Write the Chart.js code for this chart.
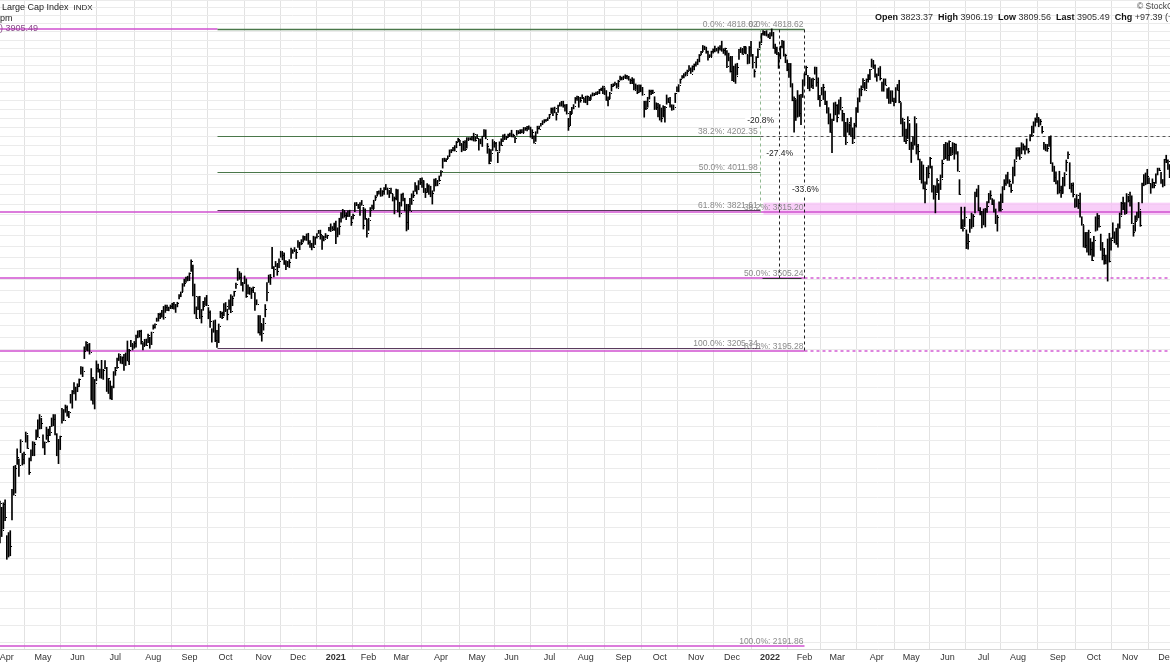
<!DOCTYPE html>
<html>
<head>
<meta charset="utf-8">
<script src="https://cdn.jsdelivr.net/npm/chart.js@4.4.1/dist/chart.umd.min.js"></script>
<style>
  html, body { margin: 0; padding: 0; background: #fff; }
  #wrap { width: 1170px; height: 663px; position: relative; }
</style>
</head>
<body>
<div id="wrap"><canvas id="chart"></canvas></div>
<script>
// daily bars [high, low, close], first bar = 26 Mar 2020
const bars2020 = [
  // Mar
  [2637,2500,2630],[2616,2520,2541],[2631,2545,2627],[2641,2572,2585],
  // Apr
  [2523,2448,2471],[2533,2455,2527],[2539,2459,2489],[2677,2574,2664],[2757,2657,2659],[2760,2664,2750],[2819,2763,2790],
  [2782,2721,2762],[2852,2805,2846],[2802,2761,2783],[2807,2765,2800],[2880,2843,2875],[2868,2820,2823],[2786,2728,2737],
  [2815,2776,2799],[2845,2794,2798],[2843,2794,2837],[2888,2852,2878],[2925,2861,2863],[2945,2891,2940],[2931,2892,2912],
  // May
  [2870,2822,2831],[2844,2798,2843],[2898,2853,2868],[2891,2844,2848],[2901,2867,2881],[2932,2900,2930],[2945,2903,2930],
  [2945,2869,2870],[2874,2794,2820],[2853,2766,2853],[2865,2816,2864],[2968,2913,2954],[2964,2922,2923],[2981,2953,2972],
  [2978,2939,2949],[2957,2933,2955],[3022,2988,2992],[3037,2969,3036],[3068,3024,3030],[3050,2999,3044],
  // Jun
  [3063,3032,3056],[3082,3052,3081],[3131,3101,3123],[3129,3091,3112],[3211,3163,3194],[3233,3196,3232],[3223,3194,3207],
  [3225,3181,3190],[3123,2999,3002],[3088,2984,3041],[3080,2966,3067],[3154,3075,3125],[3141,3109,3113],[3121,3086,3115],
  [3156,3084,3098],[3120,3080,3118],[3155,3123,3131],[3128,3033,3050],[3084,3025,3084],[3074,3004,3009],[3054,3001,3053],
  [3111,3047,3100],
  // Jul
  [3128,3096,3116],[3165,3124,3130],[3183,3155,3180],[3174,3144,3145],[3170,3142,3170],[3180,3116,3152],[3186,3135,3185],
  [3235,3154,3155],[3201,3139,3198],[3238,3212,3227],[3221,3198,3216],[3233,3205,3225],[3259,3210,3252],[3277,3248,3257],
  [3279,3251,3276],[3280,3222,3236],[3228,3198,3216],[3242,3215,3239],[3243,3216,3218],[3264,3228,3258],[3250,3205,3246],
  [3272,3220,3271],
  // Aug
  [3302,3284,3295],[3307,3288,3307],[3331,3317,3328],[3351,3318,3349],[3352,3329,3351],[3364,3335,3360],[3381,3326,3334],
  [3387,3355,3380],[3387,3363,3373],[3378,3362,3373],[3387,3373,3382],[3395,3371,3390],[3399,3369,3375],[3390,3355,3386],
  [3399,3379,3397],[3432,3413,3431],[3444,3423,3444],[3481,3445,3479],[3501,3469,3485],[3510,3486,3508],[3514,3493,3500],
  // Sep
  [3529,3494,3527],[3588,3535,3581],[3564,3427,3455],[3479,3349,3427],[3379,3329,3332],[3424,3367,3399],[3425,3329,3339],
  [3368,3310,3341],[3403,3364,3384],[3419,3385,3401],[3429,3384,3385],[3376,3328,3357],[3362,3292,3319],[3286,3230,3281],
  [3320,3271,3316],[3323,3232,3237],[3279,3209,3247],[3306,3228,3298],[3360,3333,3352],[3357,3328,3335],[3393,3340,3363],
  // Oct
  [3398,3361,3381],[3369,3323,3348],[3409,3368,3409],[3432,3354,3361],[3426,3384,3419],[3447,3425,3447],[3483,3460,3477],
  [3550,3495,3534],[3535,3500,3512],[3528,3473,3489],[3486,3447,3483],[3515,3482,3484],[3502,3420,3427],[3476,3435,3443],
  [3465,3433,3436],[3461,3415,3453],[3466,3441,3465],[3441,3364,3401],[3410,3388,3391],[3342,3268,3271],[3342,3259,3310],
  [3305,3234,3270],
  // Nov
  [3330,3280,3310],[3389,3336,3369],[3486,3405,3443],[3519,3486,3510],[3522,3477,3509],[3646,3548,3551],[3557,3511,3546],
  [3581,3557,3573],[3570,3518,3537],[3593,3552,3585],[3628,3600,3627],[3623,3588,3610],[3620,3567,3568],[3585,3543,3582],
  [3581,3557,3558],[3589,3553,3578],[3643,3595,3635],[3635,3618,3630],[3645,3630,3638],[3634,3594,3622],
  // Dec
  [3678,3645,3662],[3670,3635,3669],[3682,3658,3667],[3700,3670,3699],[3697,3679,3692],[3709,3678,3702],[3712,3660,3673],
  [3678,3645,3668],[3665,3634,3663],[3698,3645,3647],[3695,3659,3695],[3711,3689,3701],[3726,3711,3722],[3727,3684,3709],
  [3702,3636,3695],[3698,3676,3687],[3711,3689,3690],[3703,3690,3703],[3740,3723,3735],[3757,3720,3727],[3744,3730,3732],
  [3760,3726,3756]
]

const bars2021 = [
  // Jan
  [3770,3663,3701],[3738,3695,3727],[3784,3706,3748],[3811,3765,3804],[3827,3784,3825],[3818,3789,3800],[3811,3777,3801],
  [3820,3792,3810],[3823,3792,3796],[3788,3749,3768],[3804,3781,3799],[3860,3816,3852],[3861,3845,3853],[3852,3831,3841],
  [3860,3797,3855],[3871,3847,3850],[3837,3732,3751],[3830,3778,3787],[3779,3694,3714],
  // Feb
  [3784,3726,3774],[3836,3792,3826],[3848,3828,3830],[3872,3830,3872],[3895,3874,3887],[3916,3892,3916],[3919,3902,3911],
  [3932,3891,3910],[3920,3893,3916],[3935,3901,3935],[3951,3924,3933],[3933,3901,3931],[3921,3885,3914],[3932,3905,3907],
  [3902,3868,3877],[3888,3805,3881],[3928,3873,3925],[3925,3815,3829],[3862,3790,3811],
  // Mar
  [3903,3843,3902],[3907,3869,3870],[3882,3819,3820],[3852,3723,3768],[3852,3730,3842],[3881,3819,3821],[3904,3851,3875],
  [3918,3885,3899],[3960,3916,3939],[3945,3903,3943],[3970,3924,3969],[3982,3950,3963],[3984,3936,3974],[3970,3910,3915],
  [3931,3885,3913],[3955,3911,3941],[3949,3901,3911],[3942,3889,3889],[3919,3853,3910],[3978,3917,3975],[3981,3943,3971],
  [3968,3944,3959],[3994,3967,3973],
  // Apr
  [4021,3993,4020],[4084,4034,4078],[4086,4068,4074],[4084,4068,4080],[4098,4083,4097],[4129,4096,4129],[4131,4114,4128],
  [4143,4124,4142],[4152,4123,4125],[4174,4140,4170],[4191,4171,4185],[4180,4151,4163],[4160,4119,4135],[4175,4126,4173],
  [4178,4125,4135],[4194,4138,4180],[4194,4182,4188],[4194,4182,4187],[4201,4181,4183],[4218,4176,4211],[4199,4175,4181],
  // May
  [4210,4188,4193],[4187,4128,4165],[4187,4161,4168],[4202,4147,4202],[4238,4201,4233],[4236,4188,4188],[4163,4111,4152],
  [4135,4056,4063],[4131,4069,4113],[4184,4126,4174],[4170,4143,4163],[4169,4123,4128],[4117,4062,4116],[4172,4122,4159],
  [4188,4152,4156],[4209,4172,4197],[4213,4183,4188],[4202,4188,4196],[4213,4195,4201],[4219,4204,4204],
  // Jun
  [4234,4198,4202],[4213,4197,4208],[4198,4167,4193],[4233,4207,4230],[4232,4215,4227],[4237,4216,4227],[4237,4219,4220],
  [4249,4220,4239],[4249,4233,4247],[4255,4230,4255],[4258,4238,4247],[4251,4196,4224],[4237,4188,4222],[4204,4165,4166],
  [4226,4174,4225],[4256,4217,4246],[4256,4240,4242],[4272,4256,4266],[4286,4266,4281],[4292,4274,4291],[4293,4282,4292],
  [4302,4287,4298],
  // Jul
  [4321,4301,4320],[4356,4326,4352],[4357,4313,4344],[4361,4329,4358],[4331,4289,4321],[4372,4331,4370],[4386,4366,4385],
  [4393,4366,4369],[4394,4360,4374],[4375,4338,4360],[4376,4322,4327],[4299,4233,4258],[4337,4259,4323],[4359,4324,4359],
  [4375,4351,4367],[4415,4382,4412],[4423,4398,4422],[4416,4360,4401],[4416,4388,4401],[4430,4408,4419],[4412,4387,4395],
  // Aug
  [4422,4385,4387],[4424,4374,4423],[4417,4397,4403],[4430,4403,4429],[4441,4423,4437],[4439,4425,4432],[4446,4431,4437],
  [4449,4436,4448],[4461,4436,4461],[4468,4454,4468],[4480,4436,4480],[4470,4431,4448],[4454,4398,4400],[4418,4368,4406],
  [4444,4407,4442],[4490,4451,4480],[4493,4477,4486],[4502,4486,4496],[4495,4468,4470],[4513,4473,4509],[4537,4514,4529],
  [4532,4515,4523],
  // Sep
  [4537,4522,4524],[4545,4527,4537],[4541,4521,4535],[4536,4513,4520],[4520,4493,4514],[4529,4493,4493],[4521,4457,4459],
  [4492,4460,4469],[4485,4436,4443],[4486,4443,4481],[4486,4447,4474],[4472,4427,4433],[4394,4305,4358],[4394,4347,4354],
  [4416,4360,4396],[4457,4406,4449],[4456,4430,4455],[4457,4436,4443],[4419,4347,4353],[4385,4350,4359],[4382,4307,4308],
  // Oct
  [4375,4289,4357],[4356,4279,4300],[4369,4306,4346],[4365,4278,4364],[4429,4377,4400],[4412,4386,4391],[4416,4360,4361],
  [4374,4343,4351],[4373,4346,4364],[4439,4386,4438],[4475,4448,4471],[4488,4447,4486],[4520,4495,4520],[4540,4524,4536],
  [4551,4527,4550],[4560,4537,4545],[4572,4547,4566],[4599,4569,4575],[4585,4552,4552],[4597,4562,4596],[4608,4573,4605],
  // Nov
  [4621,4595,4614],[4636,4604,4631],[4664,4620,4661],[4683,4662,4680],[4718,4681,4698],[4714,4694,4702],[4708,4671,4685],
  [4684,4630,4647],[4663,4650,4649],[4684,4650,4683],[4698,4672,4683],[4714,4680,4701],[4701,4684,4689],[4709,4672,4705],
  [4718,4690,4698],[4744,4683,4683],[4699,4670,4691],[4702,4660,4701],[4687,4586,4595],[4672,4626,4655],[4647,4560,4567],
  // Dec
  [4653,4511,4513],[4595,4505,4577],[4608,4495,4538],[4612,4544,4592],[4695,4634,4687],[4705,4675,4701],[4695,4665,4667],
  [4713,4671,4712],[4710,4667,4669],[4660,4608,4634],[4712,4611,4710],[4743,4652,4669],[4665,4583,4621],[4575,4531,4568],
  [4651,4584,4649],[4698,4645,4697],[4740,4703,4726],[4791,4734,4791],[4808,4780,4786],[4804,4779,4793],[4808,4775,4779],
  [4787,4766,4766]
]

const bars2022 = [
  // Jan
  [4797,4759,4797],[4819,4775,4794],[4798,4700,4701],[4726,4671,4696],[4708,4663,4677],[4673,4582,4670],[4714,4638,4713],
  [4749,4703,4726],[4745,4654,4659],[4666,4615,4663],[4632,4568,4577],[4612,4530,4533],[4611,4474,4483],[4494,4396,4398],
  [4418,4223,4410],[4403,4287,4356],[4454,4305,4350],[4429,4309,4327],[4432,4264,4432],[4516,4415,4516],
  // Feb
  [4551,4484,4547],[4595,4544,4589],[4542,4465,4477],[4530,4452,4501],[4522,4471,4484],[4526,4465,4522],[4590,4548,4587],
  [4589,4478,4504],[4527,4402,4419],[4427,4364,4402],[4472,4429,4471],[4490,4403,4475],[4451,4374,4380],[4394,4327,4349],
  [4358,4268,4305],[4324,4222,4226],[4295,4115,4289],[4385,4287,4385],[4389,4318,4374],
  // Mar
  [4375,4279,4306],[4401,4322,4387],[4416,4345,4363],[4343,4284,4329],[4327,4199,4201],[4277,4157,4171],[4299,4223,4278],
  [4269,4209,4260],[4303,4201,4204],[4247,4162,4173],[4272,4188,4262],[4358,4251,4358],[4413,4331,4412],[4465,4390,4463],
  [4481,4424,4461],[4522,4469,4512],[4501,4455,4456],[4521,4465,4520],[4546,4502,4543],[4576,4517,4576],[4637,4589,4632],
  [4628,4581,4602],[4603,4531,4530],
  // Apr
  [4550,4507,4546],[4584,4539,4583],[4593,4514,4525],[4503,4451,4481],[4521,4450,4500],[4521,4485,4488],[4465,4409,4413],
  [4471,4381,4397],[4453,4381,4447],[4453,4392,4393],[4411,4367,4392],[4471,4387,4462],[4489,4455,4459],[4513,4385,4394],
  [4386,4268,4272],[4300,4201,4296],[4279,4173,4175],[4240,4162,4184],[4308,4189,4288],[4270,4130,4132],
  // May
  [4170,4063,4155],[4200,4131,4175],[4308,4154,4300],[4270,4107,4147],[4158,4076,4123],[4081,3975,3991],[4068,3957,4001],
  [4050,3928,3935],[3964,3859,3930],[4038,3952,4024],[4047,3984,4008],[4090,4034,4089],[4045,3912,3924],[3946,3877,3901],
  [3944,3810,3901],[3981,3909,3974],[3955,3875,3941],[3999,3925,3979],[4076,3985,4058],[4158,4078,4158],[4169,4083,4132],
  // Jun
  [4166,4074,4101],[4177,4074,4177],[4142,4099,4109],[4168,4110,4121],[4164,4080,4161],[4160,4107,4116],[4120,4018,4018],
  [3975,3900,3901],[3838,3734,3750],[3778,3722,3735],[3838,3744,3790],[3728,3640,3667],[3708,3637,3675],[3779,3716,3765],
  [3809,3735,3760],[3802,3743,3796],[3913,3810,3912],[3928,3889,3900],[3946,3820,3822],[3836,3800,3819],[3818,3738,3785],
  // Jul
  [3829,3752,3825],[3832,3742,3831],[3865,3812,3845],[3906,3859,3903],[3919,3876,3899],[3880,3850,3854],[3874,3813,3819],
  [3829,3758,3802],[3796,3722,3790],[3864,3818,3863],[3903,3818,3831],[3940,3860,3937],[3975,3924,3960],[3999,3946,3999],
  [4013,3956,3962],[3975,3939,3967],[3953,3911,3921],[4040,3956,4024],[4078,3994,4072],[4140,4080,4130],
  // Aug
  [4141,4096,4119],[4141,4079,4091],[4167,4108,4155],[4161,4128,4152],[4151,4107,4145],[4187,4128,4140],[4137,4112,4122],
  [4211,4177,4210],[4257,4201,4207],[4280,4220,4280],[4301,4256,4297],[4325,4277,4305],[4302,4253,4274],[4293,4262,4284],
  [4255,4218,4228],[4169,4131,4138],[4159,4124,4129],[4158,4121,4141],[4200,4148,4199],[4204,4057,4058],[4062,4017,4031],
  [4044,3965,3986],[4015,3954,3955],
  // Sep
  [3970,3903,3967],[4018,3907,3924],[3942,3886,3908],[3987,3906,3980],[4011,3943,4006],[4076,4018,4067],[4119,4083,4110],
  [4062,3929,3933],[3957,3911,3946],[3959,3888,3901],[3880,3837,3873],[3900,3839,3900],[3877,3831,3856],[3908,3789,3790],
  [3791,3750,3758],[3749,3647,3693],[3716,3644,3655],[3717,3623,3647],[3727,3610,3719],[3687,3610,3640],[3671,3584,3586],
  // Oct
  [3697,3604,3678],[3791,3722,3791],[3807,3726,3783],[3798,3741,3745],[3708,3632,3640],[3669,3588,3612],[3641,3568,3589],
  [3610,3570,3577],[3685,3492,3670],[3712,3578,3583],[3690,3633,3678],[3762,3687,3720],[3719,3667,3695],[3736,3659,3666],
  [3757,3647,3753],[3809,3736,3797],[3862,3800,3859],[3887,3825,3831],[3860,3803,3807],[3905,3809,3901],[3893,3863,3872],
  // Nov
  [3912,3843,3856],[3894,3758,3760],[3751,3698,3720],[3796,3722,3771],[3814,3773,3807],[3861,3786,3828],[3818,3745,3749],
  [3958,3859,3956],[4001,3944,3993],[4009,3949,3957],[4028,3954,3992],[3984,3955,3959],[3955,3906,3947],[3979,3933,3965],
  [3962,3933,3950],[4005,3956,4004],[4034,3999,4027],[4034,4021,4026],[4013,3956,3964],[3976,3938,3958],[4080,3944,4080],
  // Dec
  [4101,4062,4077],[4077,4027,4072],[4052,3985,3999]
]

// month tick labels and the bar index where each month starts
const monthLabels = ['Apr','May','Jun','Jul','Aug','Sep','Oct','Nov','Dec',
  '2021','Feb','Mar','Apr','May','Jun','Jul','Aug','Sep','Oct','Nov','Dec',
  '2022','Feb','Mar','Apr','May','Jun','Jul','Aug','Sep','Oct','Nov','Dec']
const monthStarts = [4,25,45,67,89,110,131,153,173,
  195,214,233,256,277,297,319,340,362,383,404,425,
  447,467,486,509,529,550,571,591,614,635,656,677]

// fibonacci retracements
const fibPct = ['0.0%','38.2%','50.0%','61.8%','100.0%']
const fib1Levels = [4818.62, 4202.35, 4011.98, 3821.61, 3205.34]   // Sep 2020 low to Jan 2022 high
const fib2Levels = [4818.62, 3815.20, 3505.24, 3195.28, 2191.86]   // Mar 2020 low to Jan 2022 high
const fib1Span = [126, 441]
const fib2End = 467

// drawdown measurements from the high
const dropLevels = [3815.20, 3505.24, 3195.28]
const dropText = ['-20.8%', '-27.4%', '-33.6%']
const dropAt = [441, 452, 467]

// support zone
const zoneRange = [3800, 3860]
const zoneFrom = 443

const header = {
  symbol: 'Large Cap Index', exch: 'INDX', time: 'pm', last: ') 3905.49',
  copy: '\u00A9 StockCharts.com',
  quote: [['Open', ' 3823.37  '], ['High', ' 3906.19  '], ['Low', ' 3809.56  '], ['Last', ' 3905.49  '], ['Chg', ' +97.39 (+2.56%)']]
}

const FONT = '"Liberation Sans", Arial, Helvetica, sans-serif'
const MAGENTA = '#d050d0'
const FIBGREEN = '#4a774a'

const bars = bars2020.concat(bars2021, bars2022)
const hlData = bars.map((b, i) => ({ x: i, y: [b[1], b[0]] }))

const gridLevels = []
for (let p = 2200; p <= 5000; p += 50) gridLevels.push(p)

function hline(ctx, y, x0, x1, color, dash, width) {
  ctx.beginPath()
  ctx.strokeStyle = color
  ctx.lineWidth = width || 1
  ctx.setLineDash(dash || [])
  ctx.moveTo(x0, y)
  ctx.lineTo(x1, y)
  ctx.stroke()
}

function vline(ctx, x, y0, y1, color, dash) {
  ctx.beginPath()
  ctx.strokeStyle = color
  ctx.lineWidth = 1
  ctx.setLineDash(dash || [])
  ctx.moveTo(x, y0)
  ctx.lineTo(x, y1)
  ctx.stroke()
}

function zeroPad(s) {
  s.paddingLeft = 0
  s.paddingRight = 0
  s.paddingTop = 0
  s.paddingBottom = 0
}

const overlay = {
  id: 'overlay',
  beforeDatasetsDraw(chart) {
    const { ctx, chartArea: area, scales: { x, y } } = chart
    const px = i => Math.round(x.getPixelForValue(i)) + 0.5
    const py = v => Math.round(y.getPixelForValue(v)) + 0.5
    ctx.save()

    // pink zone
    const z0 = y.getPixelForValue(zoneRange[1]), z1 = y.getPixelForValue(zoneRange[0])
    ctx.fillStyle = 'rgba(246,190,246,0.75)'
    ctx.fillRect(px(zoneFrom), z0, area.right - px(zoneFrom), z1 - z0)

    // retracement 2 (magenta)
    fib2Levels.forEach((v, k) => {
      const yy = Math.round(y.getPixelForValue(v))
      if (k === 0) {
        hline(ctx, yy, area.left, px(fib1Span[0]), MAGENTA, null, 1.6)
      } else if (k === 1) {
        hline(ctx, yy, area.left, area.right, MAGENTA, null, 1.6)
      } else {
        hline(ctx, yy, area.left, px(fib2End), MAGENTA, null, 1.6)
        if (k === 2 || k === 3) hline(ctx, yy, px(fib2End), area.right, MAGENTA, [3, 3], 1.4)
      }
    })

    // retracement 1 (green)
    fib1Levels.forEach((v, k) => {
      const end = k === 0 ? px(fib2End) : px(fib1Span[1])
      const col = k >= 3 ? '#5a3a5e' : FIBGREEN
      hline(ctx, py(v), px(fib1Span[0]), end, col, null, k === 0 ? 1.3 : 1)
    })
    hline(ctx, py(fib1Levels[1]), px(fib1Span[1]), area.right, '#555', [3, 3])

    // drawdown lines
    dropLevels.forEach((v, k) => {
      vline(ctx, px(dropAt[k]), py(fib2Levels[0]), py(v), k === 0 ? '#8fb88f' : '#222', [3, 3])
    })
    hline(ctx, py(dropLevels[1]), px(dropAt[0]) + 2, px(dropAt[2]) - 3, '#333')
    ctx.restore()
  },
  afterDatasetsDraw(chart) {
    const { ctx, scales: { x, y } } = chart
    ctx.save()
    // close ticks
    ctx.fillStyle = '#000'
    bars.forEach((b, i) => {
      const xx = Math.round(x.getPixelForValue(i))
      ctx.fillRect(xx + 1, Math.round(y.getPixelForValue(b[2])), 1, 1)
    })

    // fib labels
    ctx.font = '8.5px ' + FONT
    ctx.fillStyle = '#8a8a8a'
    ctx.textAlign = 'right'
    ctx.textBaseline = 'alphabetic'
    const r1 = x.getPixelForValue(fib1Span[1]) - 2
    const r2 = x.getPixelForValue(fib2End) - 1
    fib1Levels.forEach((v, k) => {
      ctx.fillText(fibPct[k] + ': ' + v.toFixed(2), r1, y.getPixelForValue(v) - 2)
    })
    fib2Levels.forEach((v, k) => {
      ctx.fillText(fibPct[k] + ': ' + v.toFixed(2), r2, y.getPixelForValue(v) - 2)
    })

    // drawdown labels
    ctx.font = '8.5px ' + FONT
    ctx.textAlign = 'center'
    ctx.textBaseline = 'middle'
    dropLevels.forEach((v, k) => {
      const top = y.getPixelForValue(fib2Levels[0]), bot = y.getPixelForValue(v)
      const xx = x.getPixelForValue(dropAt[k])
      ctx.fillStyle = '#fff'
      const w = ctx.measureText(dropText[k]).width
      ctx.fillRect(xx - w / 2 - 1, (top + bot) / 2 - 4, w + 2, 9)
      ctx.fillStyle = '#222'
      ctx.fillText(dropText[k], xx + 1, (top + bot) / 2)
    })
    ctx.restore()
  },
  afterDraw(chart) {
    const { ctx } = chart
    ctx.save()
    ctx.textBaseline = 'middle'
    ctx.textAlign = 'left'
    ctx.fillStyle = '#222'
    ctx.font = '9px ' + FONT
    ctx.fillText(header.symbol, 2, 8)
    const sw = ctx.measureText(header.symbol).width
    ctx.font = '8px ' + FONT
    ctx.fillText(header.exch, 2 + sw + 5, 8)
    ctx.font = '9px ' + FONT
    ctx.fillText(header.time, 0, 19)
    ctx.fillStyle = '#8a4a8a'
    ctx.fillText(header.last, 0, 29)

    ctx.fillStyle = '#444'
    ctx.font = '8.5px ' + FONT
    ctx.fillText(header.copy, 1137, 7)
    let cx = 875
    header.quote.forEach(([k, v]) => {
      ctx.font = 'bold 9px ' + FONT
      ctx.fillStyle = '#111'
      ctx.fillText(k, cx, 18)
      cx += ctx.measureText(k).width
      ctx.font = '9px ' + FONT
      ctx.fillStyle = '#333'
      ctx.fillText(v, cx, 18)
      cx += ctx.measureText(v).width
    })
    ctx.restore()
  }
}

new Chart(document.getElementById('chart'), {
  type: 'bar',
  data: {
    datasets: [{
      data: hlData,
      backgroundColor: '#000',
      borderWidth: 0,
      barThickness: 1,
      grouped: false
    }]
  },
  options: {
    responsive: true,
    maintainAspectRatio: false,
    animation: false,
    events: [],
    layout: { padding: 0, autoPadding: false },
    plugins: { legend: { display: false }, tooltip: { enabled: false } },
    scales: {
      x: {
        type: 'linear',
        offset: false,
        min: 0.04,
        max: 679.2,
        afterBuildTicks: s => { s.ticks = monthStarts.map(v => ({ value: v })) },
        afterFit: s => { s.height = 14; zeroPad(s) },
        grid: { color: '#e2e2e2', drawTicks: false },
        border: { color: '#d8d8d8' },
        ticks: {
          autoSkip: false,
          maxRotation: 0,
          padding: 3,
          color: '#333',
          callback: (v, i) => monthLabels[i],
          font: c => ({ family: FONT, size: 9, weight: /^20/.test(monthLabels[c.index] || '') ? 'bold' : 'normal' })
        }
      },
      y: {
        type: 'logarithmic',
        position: 'right',
        min: 2183,
        max: 5000,
        afterBuildTicks: s => { s.ticks = gridLevels.map(v => ({ value: v })) },
        afterFit: s => { s.width = 0; zeroPad(s) },
        grid: { color: '#ebebeb', drawTicks: false },
        border: { display: false },
        ticks: { display: false, padding: 0 }
      }
    }
  },
  plugins: [overlay]
})
</script>
</body>
</html>
